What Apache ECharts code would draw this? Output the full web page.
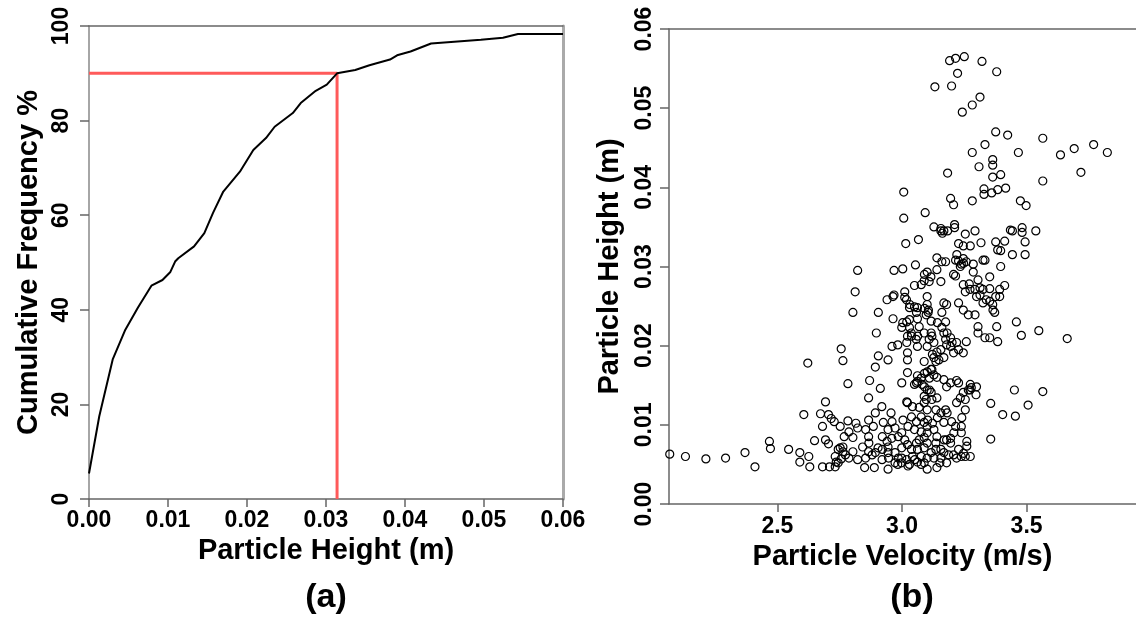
<!DOCTYPE html>
<html><head><meta charset="utf-8">
<script src="https://cdn.jsdelivr.net/npm/echarts@6/dist/echarts.min.js"></script>
<style>html,body{margin:0;padding:0;background:#fff}#c{width:1136px;height:619px}</style>
</head><body><div id="c"></div>
<script>
// ---- Panel (a): cumulative frequency of particle height ----
const cdfHeight = [0, 0.0013, 0.003, 0.0046, 0.0062, 0.0079, 0.0093, 0.0103, 0.0109, 0.0113, 0.0133, 0.0146, 0.0157, 0.017, 0.0191, 0.0208, 0.0224, 0.0235, 0.0258, 0.0268, 0.0287, 0.0301, 0.0314, 0.0337, 0.0355, 0.0381, 0.039, 0.0407, 0.0433, 0.0496, 0.0524, 0.0543, 0.06];
const cdfFreq   = [5.4, 17.5, 29.5, 35.8, 40.5, 45.1, 46.3, 48.0, 50.2, 50.9, 53.4, 56.2, 60.5, 65.0, 69.2, 73.8, 76.3, 78.7, 81.6, 83.7, 86.3, 87.6, 90.0, 90.7, 91.7, 92.9, 93.8, 94.6, 96.3, 97.1, 97.5, 98.3, 98.3];
const cutHeight = 0.0314;   // 90th percentile height
const cutFreq = 90;

// ---- Panel (b): particle velocity (m/s) vs particle height (m) ----
const velocityTicks = [2.5, 3.0, 3.5];
const scatterPoints = [
 [3.191,0.0560],[3.215,0.0563],[3.250,0.0565],[3.321,0.0559],[3.223,0.0544],[3.380,0.0546],[3.132,0.0527],[3.199,0.0528],
 [3.242,0.0495],[3.282,0.0504],[3.313,0.0514],[3.376,0.0470],[3.424,0.0466],[3.565,0.0462],[3.282,0.0444],[3.333,0.0454],
 [3.467,0.0444],[3.636,0.0441],[3.691,0.0449],[3.769,0.0454],[3.824,0.0444],[3.364,0.0435],[3.364,0.0428],[3.309,0.0426],
 [3.183,0.0418],[3.718,0.0419],[3.364,0.0413],[3.396,0.0416],[3.565,0.0408],[3.007,0.0394],[3.329,0.0398],[3.360,0.0393],
 [3.329,0.0391],[3.416,0.0399],[3.384,0.0397],[3.195,0.0386],[3.207,0.0378],[3.282,0.0383],[3.475,0.0383],[3.498,0.0377],
 [3.007,0.0361],[3.093,0.0368],[3.128,0.0350],[3.156,0.0345],[3.168,0.0345],[3.183,0.0345],[3.211,0.0353],[3.211,0.0349],
 [3.254,0.0341],[3.293,0.0345],[3.435,0.0346],[3.443,0.0345],[3.482,0.0349],[3.482,0.0343],[3.537,0.0345],[3.015,0.0329],
 [3.066,0.0334],[3.140,0.0311],[3.160,0.0306],[3.175,0.0306],[3.227,0.0329],[3.246,0.0326],[3.274,0.0326],[3.317,0.0330],
 [3.376,0.0331],[3.412,0.0332],[3.384,0.0321],[3.396,0.0320],[3.494,0.0331],[3.443,0.0315],[3.494,0.0315],[3.215,0.0308],
 [3.246,0.0310],[3.258,0.0306],[3.238,0.0303],[3.234,0.0300],[3.286,0.0303],[3.325,0.0308],[3.333,0.0308],[3.396,0.0300],
 [2.822,0.0295],[2.968,0.0295],[3.003,0.0297],[3.054,0.0302],[3.101,0.0293],[3.140,0.0296],[3.207,0.0290],[3.286,0.0293],
 [3.352,0.0287],[3.215,0.0288],[3.305,0.0283],[3.089,0.0282],[3.109,0.0281],[3.050,0.0276],[3.077,0.0277],[3.156,0.0281],
 [3.246,0.0277],[3.270,0.0278],[3.293,0.0271],[3.325,0.0271],[3.352,0.0272],[3.392,0.0271],[3.412,0.0276],[2.812,0.0268],
 [2.968,0.0264],[3.011,0.0268],[2.940,0.0258],[2.964,0.0262],[3.011,0.0261],[3.101,0.0262],[3.050,0.0249],[3.062,0.0248],
 [3.030,0.0248],[3.058,0.0242],[3.101,0.0252],[3.105,0.0242],[3.097,0.0239],[3.168,0.0254],[3.179,0.0252],[3.160,0.0242],
 [3.175,0.0230],[3.227,0.0254],[3.254,0.0268],[3.313,0.0264],[3.325,0.0254],[3.352,0.0256],[3.364,0.0252],[3.372,0.0242],
 [3.392,0.0262],[3.376,0.0262],[3.266,0.0239],[3.293,0.0239],[3.246,0.0245],[2.803,0.0242],[2.905,0.0242],[2.964,0.0234],
 [3.003,0.0229],[3.019,0.0230],[3.030,0.0233],[2.999,0.0223],[3.030,0.0223],[3.062,0.0234],[3.069,0.0224],[3.117,0.0216],
 [3.120,0.0212],[3.109,0.0208],[3.128,0.0204],[3.101,0.0199],[3.160,0.0223],[3.168,0.0216],[3.175,0.0208],[3.179,0.0201],
 [3.195,0.0199],[3.156,0.0195],[3.089,0.0216],[3.022,0.0212],[3.038,0.0212],[3.019,0.0204],[3.062,0.0199],[2.960,0.0199],
 [2.983,0.0201],[2.897,0.0216],[3.219,0.0204],[3.227,0.0195],[3.246,0.0191],[3.258,0.0205],[3.207,0.0191],[3.305,0.0224],
 [3.305,0.0216],[3.333,0.0210],[3.352,0.0210],[3.384,0.0205],[3.380,0.0224],[3.459,0.0230],[3.479,0.0213],[3.549,0.0219],
 [3.663,0.0209],[2.756,0.0196],[2.763,0.0181],[2.622,0.0178],[2.905,0.0187],[2.944,0.0182],[2.893,0.0173],[3.022,0.0191],
 [3.022,0.0182],[3.089,0.0180],[3.022,0.0166],[3.128,0.0185],[3.148,0.0182],[3.168,0.0185],[3.140,0.0192],[3.101,0.0167],
 [3.120,0.0170],[3.128,0.0163],[3.140,0.0160],[3.062,0.0162],[3.062,0.0155],[3.050,0.0151],[3.081,0.0151],[2.999,0.0153],
 [3.058,0.0153],[2.870,0.0156],[2.913,0.0146],[2.783,0.0152],[3.168,0.0157],[3.195,0.0153],[3.219,0.0156],[3.227,0.0153],
 [3.179,0.0148],[3.101,0.0144],[3.117,0.0141],[3.089,0.0136],[3.120,0.0132],[3.140,0.0134],[3.274,0.0151],[3.278,0.0147],
 [3.266,0.0144],[3.297,0.0138],[3.246,0.0141],[3.234,0.0134],[3.254,0.0132],[3.451,0.0144],[3.565,0.0142],[3.506,0.0125],
 [2.693,0.0129],[2.866,0.0134],[3.019,0.0129],[3.097,0.0132],[3.356,0.0127],[3.404,0.0113],[3.455,0.0111],[3.356,0.0082],
 [2.068,0.0063],[2.131,0.0060],[2.213,0.0057],[2.292,0.0058],[2.370,0.0065],[2.410,0.0047],[2.468,0.0079],[2.472,0.0070],
 [2.545,0.0069],[2.590,0.0065],[2.590,0.0053],[2.626,0.0060],[2.630,0.0047],[2.649,0.0080],[2.681,0.0098],[2.606,0.0113],
 [2.673,0.0114],[2.705,0.0113],[2.716,0.0108],[2.728,0.0104],[2.783,0.0105],[2.693,0.0081],[2.705,0.0076],[2.681,0.0047],
 [2.709,0.0047],[2.732,0.0047],[2.732,0.0060],[2.736,0.0053],[2.744,0.0069],[2.752,0.0071],[2.763,0.0072],[2.752,0.0098],
 [2.787,0.0091],[2.768,0.0085],[2.803,0.0084],[2.787,0.0058],[2.822,0.0056],[2.803,0.0066],[2.850,0.0046],[2.889,0.0046],
 [2.893,0.0115],[2.885,0.0098],[2.854,0.0094],[2.866,0.0085],[2.842,0.0072],[2.866,0.0066],[2.893,0.0065],[2.854,0.0058],
 [2.956,0.0115],[2.960,0.0104],[2.925,0.0103],[2.944,0.0094],[2.972,0.0096],[2.921,0.0085],[2.940,0.0079],[2.944,0.0072],
 [2.921,0.0069],[2.944,0.0065],[2.972,0.0065],[2.972,0.0052],[2.944,0.0044],[2.999,0.0090],[3.011,0.0081],[3.022,0.0075],
 [2.999,0.0071],[3.038,0.0069],[2.999,0.0058],[3.019,0.0056],[3.030,0.0050],[2.983,0.0050],[3.022,0.0128],[3.042,0.0123],
 [3.069,0.0122],[3.089,0.0128],[3.101,0.0119],[3.136,0.0119],[3.156,0.0115],[3.175,0.0119],[3.038,0.0110],[3.077,0.0110],
 [3.058,0.0104],[3.089,0.0103],[3.101,0.0098],[3.050,0.0094],[3.077,0.0091],[3.101,0.0090],[3.089,0.0084],[3.069,0.0081],
 [3.058,0.0077],[3.101,0.0077],[3.062,0.0069],[3.089,0.0071],[3.117,0.0065],[3.077,0.0060],[3.101,0.0058],[3.042,0.0060],
 [3.062,0.0053],[3.089,0.0052],[3.128,0.0058],[3.101,0.0044],[3.128,0.0094],[3.140,0.0085],[3.136,0.0077],[3.156,0.0069],
 [3.168,0.0065],[3.187,0.0062],[3.207,0.0062],[3.168,0.0103],[3.199,0.0104],[3.215,0.0098],[3.238,0.0098],[3.238,0.0090],
 [3.179,0.0081],[3.195,0.0077],[3.227,0.0069],[3.274,0.0060],[3.238,0.0060],[3.219,0.0058],[3.254,0.0060],[3.219,0.0128],
 [3.254,0.0119],[3.179,0.0052],[3.152,0.0052],[3.140,0.0046],
 [2.763,0.0066],[2.773,0.0062],[2.756,0.0057],[2.744,0.0052],[2.815,0.0102],[2.822,0.0096],[2.866,0.0106],[2.919,0.0123],
 [2.904,0.0071],[2.959,0.0083],[2.985,0.0085],[3.024,0.0098],[3.004,0.0106],[3.103,0.0106],[3.122,0.0102],[3.142,0.0109],
 [3.208,0.0090],[3.195,0.0083],[3.169,0.0081],[3.136,0.0069],[3.156,0.0058],[3.051,0.0056],[3.077,0.0050],[2.985,0.0058],
 [2.998,0.0052],[3.024,0.0048],[2.946,0.0058],[2.920,0.0056],[2.867,0.0077],[2.880,0.0062],[3.247,0.0064],[3.260,0.0073],
 [3.260,0.0079],[3.240,0.0109],[3.181,0.0115],
 [3.037,0.0216],[3.057,0.0208],[3.063,0.0212],[3.117,0.0231],[3.142,0.0229],[3.181,0.0216],[3.195,0.0210],[3.201,0.0204],
 [3.122,0.0189],[3.136,0.0180],[3.116,0.0170],[3.110,0.0159],[3.090,0.0165],[3.077,0.0159],[3.090,0.0148],[3.110,0.0144],
 [3.018,0.0258],[3.031,0.0252],[3.090,0.0247],[3.106,0.0245],[3.299,0.0262],[3.338,0.0258],[3.365,0.0245],[3.273,0.0144],
 [3.299,0.0148],[3.156,0.0348],[3.162,0.0342],[3.220,0.0315],[3.227,0.0307],[3.247,0.0304],[3.090,0.0290],[3.116,0.0287],
 [3.273,0.0271],[3.313,0.0273]
];

const FONT = '"Liberation Sans", Arial, Helvetica, sans-serif';
const AX = '#666';
const tickLabel = {fontFamily: FONT, fontWeight: 'bold', fontSize: 23, color: '#000'};
const nameStyle = {fontFamily: FONT, fontWeight: 'bold', fontSize: 29, color: '#000'};

const chart = echarts.init(document.getElementById('c'), null, {renderer: 'canvas'});
chart.setOption({
  animation: false,
  backgroundColor: '#fff',
  grid: [
    {left: 89, top: 26, width: 474, height: 473},
    {left: 669, top: 29, width: 477, height: 475}
  ],
  xAxis: [
    {gridIndex: 0, type: 'value', min: 0, max: 0.06, interval: 0.01,
     name: 'Particle Height (m)', nameLocation: 'middle', nameGap: 36, nameTextStyle: nameStyle,
     axisLine: {show: true, lineStyle: {color: AX, width: 1.5}},
     axisTick: {show: true, length: 8, lineStyle: {color: AX, width: 1.5}},
     axisLabel: Object.assign({margin: 10, formatter: v => v.toFixed(2)}, tickLabel),
     splitLine: {show: false}},
    {gridIndex: 0, type: 'value', position: 'top', min: 0, max: 0.06,
     axisLine: {show: true, onZero: false, lineStyle: {color: AX, width: 1.5}},
     axisTick: {show: false}, axisLabel: {show: false}, splitLine: {show: false}},
    {gridIndex: 1, type: 'value', min: 2.065, max: 3.939,
     name: 'Particle Velocity (m/s)', nameLocation: 'middle', nameGap: 36, nameTextStyle: nameStyle,
     axisLine: {show: true, onZero: false, lineStyle: {color: AX, width: 1.5}},
     axisTick: {show: true, length: 8, customValues: velocityTicks, lineStyle: {color: AX, width: 1.5}},
     axisLabel: Object.assign({margin: 11, customValues: velocityTicks, formatter: v => v.toFixed(1)}, tickLabel),
     splitLine: {show: false}},
    {gridIndex: 1, type: 'value', position: 'top', min: 2.065, max: 3.939,
     axisLine: {show: true, onZero: false, lineStyle: {color: AX, width: 1.5}},
     axisTick: {show: false}, axisLabel: {show: false}, splitLine: {show: false}}
  ],
  yAxis: [
    {gridIndex: 0, type: 'value', min: 0, max: 100, interval: 20,
     name: 'Cumulative Frequency %', nameLocation: 'middle', nameRotate: 90, nameGap: 46, nameTextStyle: nameStyle,
     axisLine: {show: true, onZero: false, lineStyle: {color: '#888', width: 1.5}},
     axisTick: {show: true, length: 9, lineStyle: {color: AX, width: 1.5}},
     axisLabel: Object.assign({margin: 16, rotate: 90}, tickLabel),
     splitLine: {show: false}},
    {gridIndex: 0, type: 'value', position: 'right', min: 0, max: 100,
     axisLine: {show: true, onZero: false, lineStyle: {color: '#aaa', width: 3}},
     axisTick: {show: false}, axisLabel: {show: false}, splitLine: {show: false}},
    {gridIndex: 1, type: 'value', min: 0, max: 0.06, interval: 0.01,
     name: 'Particle Height (m)', nameLocation: 'middle', nameRotate: 90, nameGap: 45, nameTextStyle: nameStyle,
     axisLine: {show: true, onZero: false, lineStyle: {color: AX, width: 1.5}},
     axisTick: {show: true, length: 9, lineStyle: {color: AX, width: 1.5}},
     axisLabel: Object.assign({margin: 13, rotate: 90, formatter: v => v.toFixed(2)}, tickLabel),
     splitLine: {show: false}}
  ],
  graphic: [
    {type: 'text', x: 326, y: 598, style: {text: '(a)', font: 'bold 34px ' + FONT, fill: '#000', textAlign: 'center', textVerticalAlign: 'middle'}},
    {type: 'text', x: 912, y: 598, style: {text: '(b)', font: 'bold 34px ' + FONT, fill: '#000', textAlign: 'center', textVerticalAlign: 'middle'}}
  ],
  series: [
    {type: 'line', xAxisIndex: 0, yAxisIndex: 0, symbol: 'none', silent: true,
     lineStyle: {color: '#ff5a5a', width: 3},
     data: [[0, cutFreq], [cutHeight, cutFreq], [cutHeight, 0]]},
    {type: 'line', xAxisIndex: 0, yAxisIndex: 0, symbol: 'none', silent: true,
     lineStyle: {color: '#000', width: 2},
     data: cdfHeight.map((h, i) => [h, cdfFreq[i]])},
    {type: 'scatter', xAxisIndex: 2, yAxisIndex: 2, symbol: 'circle', symbolSize: 8, silent: true,
     itemStyle: {color: 'rgba(0,0,0,0)', borderColor: '#000', borderWidth: 1.2, opacity: 1},
     data: scatterPoints}
  ]
});
</script></body></html>
